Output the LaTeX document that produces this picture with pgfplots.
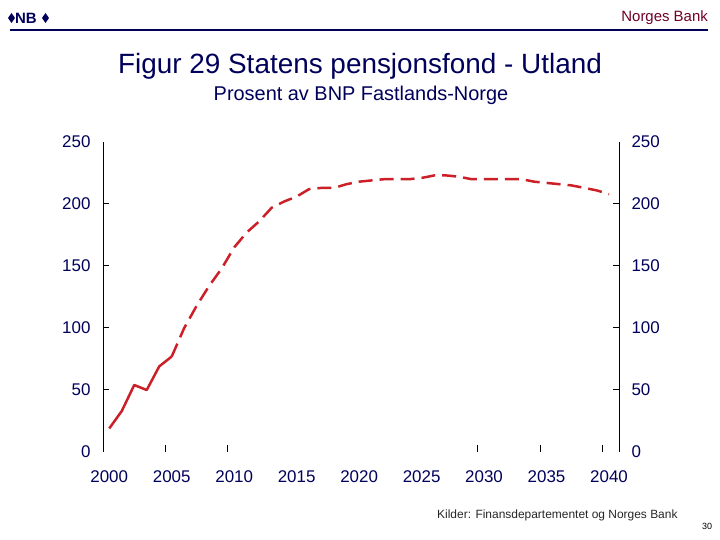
\documentclass[border=0pt]{standalone}
\usepackage{fontspec}
\setmainfont{Liberation Sans}
\usepackage{pgfplots}
\pgfplotsset{compat=1.18}
\definecolor{navy}{RGB}{0,0,90}
\definecolor{nbred}{RGB}{204,32,40}
\definecolor{nbmaroon}{RGB}{110,0,40}

\pgfplotstableread{
year val
2000 19
2001 33
2002 54
2003 50
2004 69
2005 77
}\actual
\pgfplotstableread{
year val
2005 77
2006 100
2007 118
2008 134
2009 148
2010 165
2011 177
2012 186
2013 197
2014 202
2015 206
2016 212
2017 213
2018 213
2019 216
2020 218
2021 219
2022 220
2023 220
2024 220
2025 221
2026 223
2027 223
2028 222
2029 220
2030 220
2031 220
2032 220
2033 220
2034 218
2035 217
2036 216
2037 215
2038 213
2039 211
2040 208
}\proj

\begin{document}
\begin{tikzpicture}[x=1bp,y=1bp]
\path[use as bounding box] (0,0) rectangle (720,540);
% header
\draw[navy, line width=2bp] (10,510) -- (708,510);
\node[anchor=east, text=nbmaroon, font=\fontsize{15}{17}\selectfont, inner sep=0] at (708,522) {Norges Bank};
\node[anchor=west, text=navy, font=\bfseries\fontsize{15}{17}\selectfont, inner sep=0] at (15,522) {NB};
\fill[navy] (8,522) -- (11.5,527) -- (15,522) -- (11.5,517) -- cycle;
\fill[navy] (42,522) -- (45.5,527) -- (49,522) -- (45.5,517) -- cycle;
% titles
\node[text=navy, font=\fontsize{28}{32}\selectfont, inner sep=0] at (360,474) {Figur 29 Statens pensjonsfond - Utland};
\node[text=navy, font=\fontsize{20}{24}\selectfont, inner sep=0] at (361,445) {Prosent av BNP Fastlands-Norge};
% footer
\node[anchor=west, text=black!85, font=\fontsize{12}{14}\selectfont, inner sep=0] at (437,25) {Kilder: Finansdepartementet og Norges Bank};
\node[font=\fontsize{9}{11}\selectfont, inner sep=0] at (707,14) {30};

\begin{axis}[
  at={(103bp,88bp)}, anchor=south west,
  scale only axis, width=516bp, height=310bp,
  xmin=1999.5, xmax=2040.8, ymin=0, ymax=250,
  axis line style={draw=none},
  xtick={2000,2005,...,2040},
  ytick={0,50,...,250},
  major tick length=0pt,
  xtick pos=bottom, ytick pos=left,
  clip=false,
  /pgf/number format/assume math mode=true,
  /pgf/number format/1000 sep={},
  ticklabel style={text=navy, font=\fontsize{17}{20}\selectfont},
  xticklabel style={yshift=-15bp},
  yticklabel style={xshift=-9bp},
]
% frame: vertical axis lines
\draw[black, line width=1bp] (rel axis cs:0,0) -- (rel axis cs:0,1);
\draw[black, line width=1bp] (rel axis cs:1,0) -- (rel axis cs:1,1);
% y ticks, inward on both sides
\pgfplotsinvokeforeach{50,100,150,200}{
  \draw[black, line width=1bp] (axis cs:1999.5,#1) -- (axis cs:1999.98,#1);
  \draw[black, line width=1bp] (axis cs:2040.8,#1) -- (axis cs:2040.32,#1);
}
% x ticks, pointing up
\pgfplotsinvokeforeach{2004.5,2009.5,2029.5,2034.5,2039.5}{
  \draw[black, line width=1bp] (axis cs:#1,0) -- (axis cs:#1,5.6);
}
\addplot[nbred, line width=2.5bp, line join=round] table[x=year,y=val] {\actual};
\addplot[nbred, line width=2.5bp, dash pattern=on 14bp off 7bp] table[x=year,y=val] {\proj};
\end{axis}

\begin{axis}[
  at={(103bp,88bp)}, anchor=south west,
  scale only axis, width=516bp, height=310bp,
  xmin=1999.5, xmax=2040.8, ymin=0, ymax=250,
  axis line style={draw=none},
  xtick=\empty,
  ytick={0,50,...,250},
  ytick pos=right,
  major tick length=0pt,
  /pgf/number format/assume math mode=true,
  ticklabel style={text=navy, font=\fontsize{17}{20}\selectfont},
  yticklabel style={xshift=9bp},
]
\end{axis}
\end{tikzpicture}
\end{document}
